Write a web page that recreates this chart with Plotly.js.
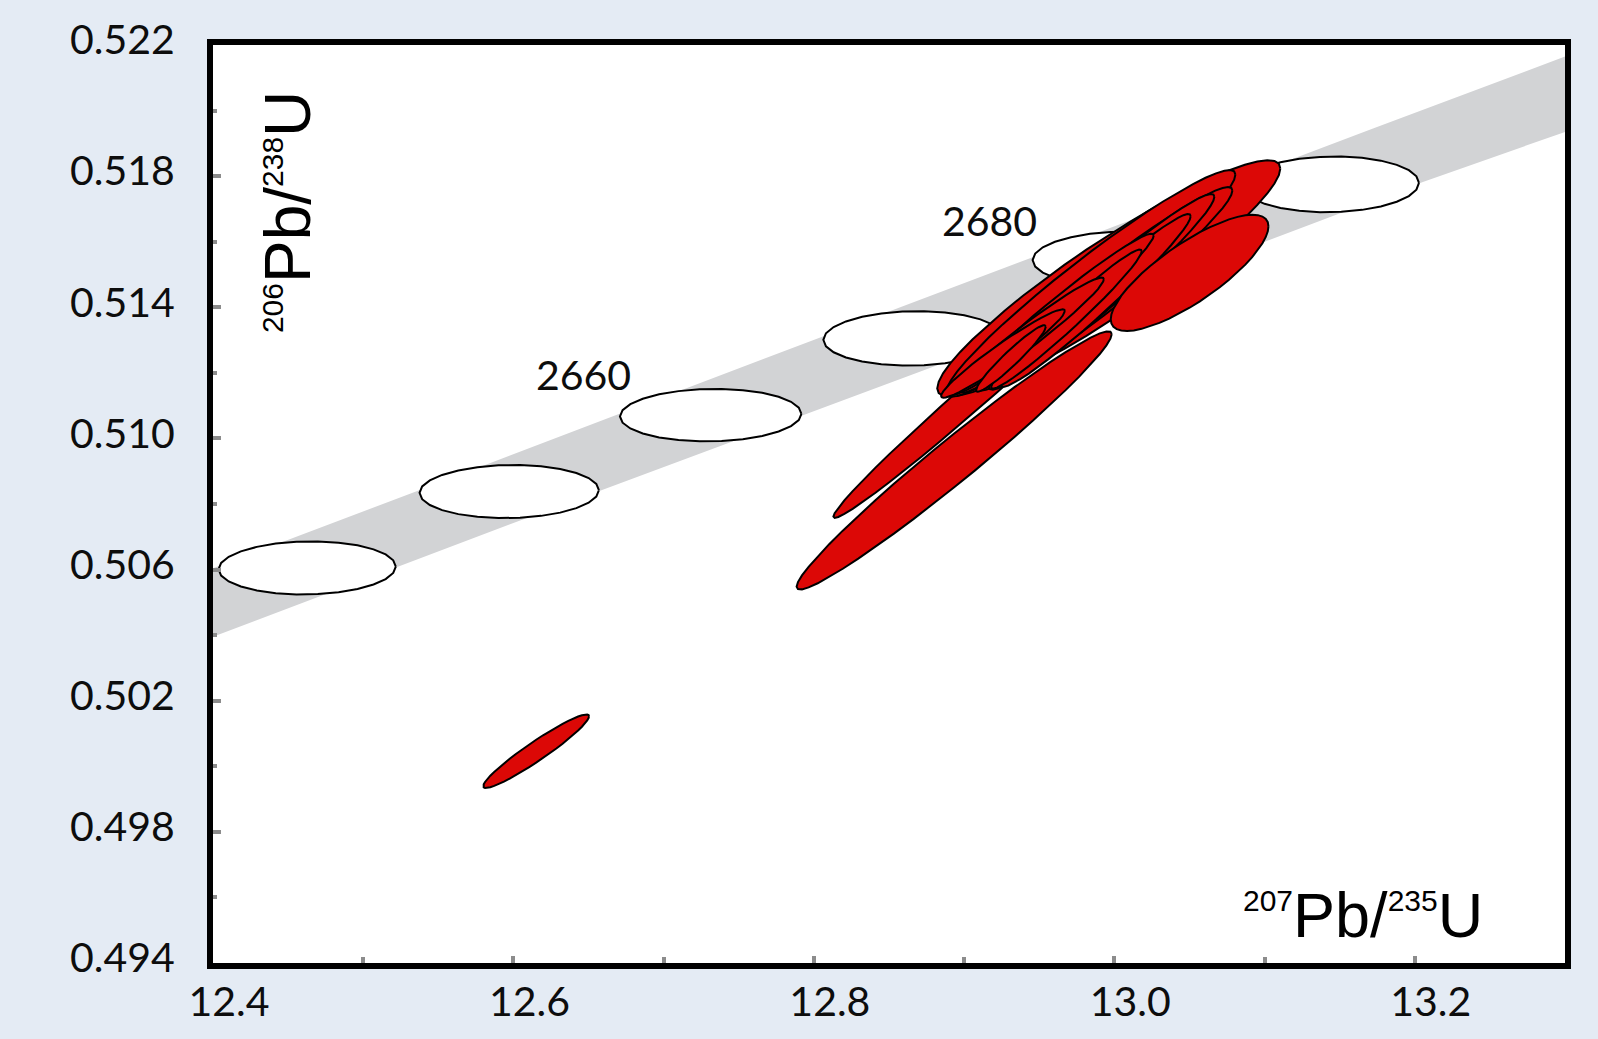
<!DOCTYPE html>
<html><head><meta charset="utf-8">
<script src="https://cdn.plot.ly/plotly-3.0.1.min.js"></script>
<style>html,body{margin:0;padding:0;background:#e4ebf4;}#chart{width:1598px;height:1039px;}</style>
</head><body><div id="chart"></div>
<script>
// Concordia age markers (Ma) with 207Pb/235U, 206Pb/238U and 2-sigma half widths
const markerAges = [2640, 2650, 2660, 2670, 2680, 2690];
const markerX = [12.4627, 12.5972, 12.7313, 12.8661, 13.0048, 13.1440];
const markerY = [0.50605, 0.50838, 0.51071, 0.51305, 0.51548, 0.51775];
const markerSX = [0.0590, 0.0597, 0.0604, 0.0598, 0.0592, 0.0588];
const markerSY = [0.00081, 0.00081, 0.00080, 0.00083, 0.00083, 0.00085];
const markerRho = [0.05, 0.05, 0.05, 0.05, 0.05, 0.05];
const labelAges = ['2660', '2680'];
const labelX = [12.6468, 12.9168];
const labelY = [0.51196, 0.51664];

// Concordia decay-constant uncertainty band edges
const bandUpperX = [12.400, 12.5373, 12.7121, 12.9246, 13.1722, 13.300];
const bandUpperY = [0.50604, 0.50842, 0.51148, 0.51517, 0.51945, 0.52165];
const bandLowerX = [12.400, 12.6058, 12.8781, 13.2054, 13.300];
const bandLowerY = [0.50395, 0.50752, 0.51216, 0.51782, 0.51935];

// Zircon analyses: 207Pb/235U, 206Pb/238U, 2-sigma half widths, error correlation
const spotX   = [12.9086, 12.9963, 12.9843, 12.9933, 12.9916, 12.9877, 12.9621, 12.9681, 12.9422, 12.9259, 12.9312, 12.8934, 13.0501, 12.6151];
const spotSX  = [0.0956, 0.1142, 0.0963, 0.0853, 0.0750, 0.0631, 0.0641, 0.0501, 0.0508, 0.0412, 0.0232, 0.1049, 0.0525, 0.0352];
const spotY   = [0.51141, 0.51488, 0.51473, 0.51456, 0.51447, 0.51421, 0.51382, 0.51364, 0.51312, 0.51259, 0.51244, 0.50933, 0.51505, 0.50046];
const spotSY  = [0.003833, 0.003606, 0.003455, 0.003106, 0.002985, 0.002636, 0.002424, 0.002121, 0.001788, 0.001348, 0.001015, 0.003939, 0.001773, 0.001121];
const spotRho = [0.990, 0.930, 0.960, 0.966, 0.972, 0.975, 0.976, 0.976, 0.970, 0.962, 0.955, 0.978, 0.80, 0.950];

const xTickVals = [12.4, 12.6, 12.8, 13.0, 13.2];
const xTickText = ['12.4', '12.6', '12.8', '13.0', '13.2'];
const xMinorVals = [12.5, 12.7, 12.9, 13.1];
const yTickVals = [0.494, 0.498, 0.502, 0.506, 0.510, 0.514, 0.518, 0.522];
const yTickText = ['0.494', '0.498', '0.502', '0.506', '0.510', '0.514', '0.518', '0.522'];
const yMinorVals = [0.496, 0.500, 0.504, 0.508, 0.512, 0.516, 0.520];

function ellipse(cx, sx, cy, sy, rho, n) {
  const xs = [], ys = [];
  const k = Math.sqrt(1 - rho * rho);
  for (let i = 0; i <= n; i++) {
    const t = 2 * Math.PI * i / n;
    xs.push(cx + sx * Math.cos(t));
    ys.push(cy + sy * (rho * Math.cos(t) + k * Math.sin(t)));
  }
  return {xs, ys};
}

const traces = [];
traces.push({
  type: 'scatter', mode: 'lines',
  x: bandUpperX.concat(bandLowerX.slice().reverse()),
  y: bandUpperY.concat(bandLowerY.slice().reverse()),
  fill: 'toself', fillcolor: '#d2d3d5', line: {width: 0, color: 'rgba(0,0,0,0)'},
  hoverinfo: 'skip', showlegend: false
});
for (let i = 0; i < markerAges.length; i++) {
  const e = ellipse(markerX[i], markerSX[i], markerY[i], markerSY[i], markerRho[i], 26);
  traces.push({type: 'scatter', mode: 'lines', x: e.xs, y: e.ys, fill: 'toself',
    fillcolor: '#ffffff', line: {color: '#000', width: 2}, hoverinfo: 'skip', showlegend: false});
}
for (let i = 0; i < spotX.length; i++) {
  const e = ellipse(spotX[i], spotSX[i], spotY[i], spotSY[i], spotRho[i], 48);
  traces.push({type: 'scatter', mode: 'lines', x: e.xs, y: e.ys, fill: 'toself',
    fillcolor: '#dc0806', line: {color: '#000', width: 2}, hoverinfo: 'skip', showlegend: false});
}

const tickFont = {family: 'Lato, sans-serif', size: 41, color: '#0d0d0d'};
const sup = s => '<sup><span style="font-size:30px">' + s + '</span></sup>';

const annotations = [];
for (let i = 0; i < labelAges.length; i++) {
  annotations.push({x: labelX[i], y: labelY[i], xref: 'x', yref: 'y', text: labelAges[i],
    showarrow: false, font: tickFont, xanchor: 'center', yanchor: 'middle'});
}
annotations.push({x: 0.9405, y: 0.052, xref: 'paper', yref: 'paper',
  text: sup('207') + 'Pb/' + sup('235') + 'U', showarrow: false,
  font: {family: 'Liberation Sans, Arial, sans-serif', size: 63, color: '#000'},
  xanchor: 'right', yanchor: 'middle'});
annotations.push({x: 0.0555, y: 0.818, xref: 'paper', yref: 'paper', textangle: -90,
  text: sup('206') + 'Pb/' + sup('238') + 'U', showarrow: false,
  font: {family: 'Liberation Sans, Arial, sans-serif', size: 64, color: '#000'},
  xanchor: 'center', yanchor: 'middle'});

const layout = {
  width: 1598, height: 1039,
  paper_bgcolor: '#e4ebf4', plot_bgcolor: '#ffffff',
  margin: {l: 213, r: 33, t: 45, b: 76},
  showlegend: false,
  xaxis: {
    range: [12.4, 13.3], tickmode: 'array', tickvals: xTickVals, ticktext: xTickText,
    ticks: 'inside', ticklen: 7, tickwidth: 4, tickcolor: '#8c8c8c',
    showline: true, linecolor: '#000', linewidth: 6, mirror: true,
    showgrid: false, zeroline: false, tickfont: tickFont,
    ticklabelshift: 16, ticklabelstandoff: -2,
    minor: {tickmode: 'array', tickvals: xMinorVals, ticks: 'inside', ticklen: 6, tickwidth: 4, tickcolor: '#8c8c8c', showgrid: false}
  },
  yaxis: {
    range: [0.494, 0.522], tickmode: 'array', tickvals: yTickVals, ticktext: yTickText,
    ticks: 'inside', ticklen: 8, tickwidth: 4, tickcolor: '#8c8c8c',
    showline: true, linecolor: '#000', linewidth: 6, mirror: true,
    showgrid: false, zeroline: false, tickfont: tickFont,
    ticklabelshift: -5, ticklabelstandoff: 24,
    minor: {tickmode: 'array', tickvals: yMinorVals, ticks: 'inside', ticklen: 4, tickwidth: 4, tickcolor: '#8c8c8c', showgrid: false}
  },
  annotations: annotations
};

Plotly.newPlot('chart', traces, layout, {displayModeBar: false, staticPlot: true});
</script></body></html>
